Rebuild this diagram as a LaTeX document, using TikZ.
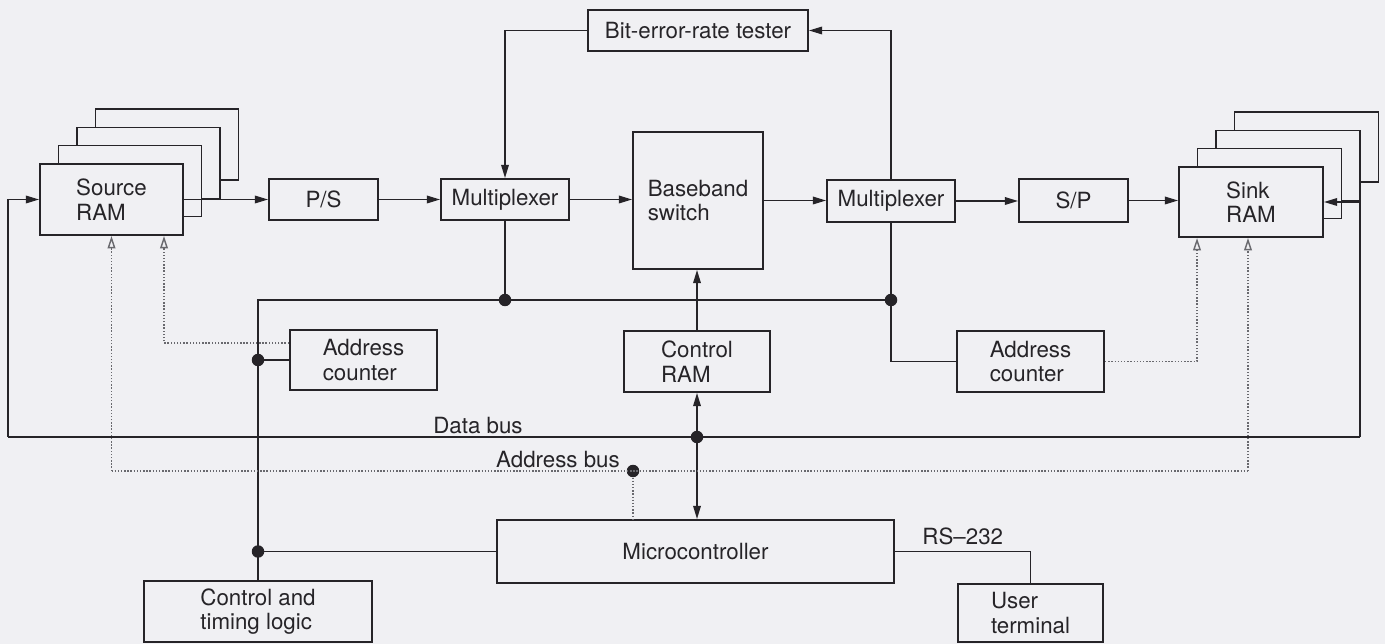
\documentclass[tikz,border=0pt]{standalone}
\usepackage{fontspec}
\setmainfont{TeX Gyre Heros}
\usetikzlibrary{arrows.meta,calc}

\definecolor{paper}{RGB}{240,240,243}
\definecolor{ink}{RGB}{38,36,40}
\definecolor{dots}{RGB}{105,105,110}

\tikzset{
  blk/.style={draw=ink, line width=1.2pt, fill=paper, text=ink, align=left,
    inner sep=0pt, font=\fontsize{12.7}{14}\selectfont},
  stk/.style={draw=ink, line width=0.9pt, fill=paper},
  wire/.style={ink, line width=0.7pt},
  sig/.style={wire, -{Triangle[length=7.5pt,width=4.4pt]}},
  both/.style={wire, {Triangle[length=7.5pt,width=4.4pt]}-{Triangle[length=7.5pt,width=4.4pt]}},
  addr/.style={dots, line width=0.8pt, densely dotted},
  addrin/.style={addr, -{Triangle[length=7pt,width=4.4pt,open]}},
  jdot/.style={circle, fill=ink, inner sep=0pt, minimum size=0.25cm},
  lbl/.style={text=ink, font=\fontsize{12.7}{14}\selectfont}
}

\begin{document}
\begin{tikzpicture}[x=0.02cm, y=-0.02cm]
\path[use as bounding box, fill=paper] (0,0) rectangle (1385,644);

% pages behind the RAMs
\draw[stk] (95.5,109.1) rectangle ++(143,71);
\draw[stk] (77,127.4) rectangle ++(143,71);
\draw[stk] (58.5,145.7) rectangle ++(143,71);
\draw[stk] (1234.5,112.1) rectangle ++(144,70);
\draw[stk] (1216,130.4) rectangle ++(144,70);
\draw[stk] (1197.5,148.7) rectangle ++(144,70);

% blocks
\node[blk, minimum width=2.86cm, minimum height=1.42cm] (srcram) at (111.5,199.5) {Source\\RAM};
\node[blk, minimum width=2.18cm, minimum height=0.82cm] (ps) at (323.5,199.5) {P/S};
\node[blk, minimum width=2.56cm, minimum height=0.82cm] (mux1) at (505,199.5) {Multiplexer};
\node[blk, minimum width=2.60cm, minimum height=2.74cm] (bbsw) at (698,200.5) {Baseband\\switch};
\node[blk, minimum width=2.56cm, minimum height=0.84cm] (mux2) at (891,201) {Multiplexer};
\node[blk, minimum width=2.18cm, minimum height=0.86cm] (sp) at (1073.5,200.5) {S/P};
\node[blk, minimum width=2.88cm, minimum height=1.40cm] (sinkram) at (1251,202) {Sink\\RAM};
\node[blk, minimum width=4.40cm, minimum height=0.82cm] (ber) at (698,30.5) {Bit-error-rate tester};
\node[blk, minimum width=2.92cm, minimum height=1.22cm] (ctrlram) at (697,361.5) {Control\\RAM};
\node[blk, minimum width=2.94cm, minimum height=1.20cm] (addrL) at (363.5,360) {Address\\counter};
\node[blk, minimum width=2.94cm, minimum height=1.22cm] (addrR) at (1030.5,361.5) {Address\\counter};
\node[blk, minimum width=7.94cm, minimum height=1.26cm] (micro) at (695.5,551.5) {Microcontroller};
\node[blk, minimum width=4.56cm, minimum height=1.22cm] (ctl) at (258,611.5) {Control and\\timing logic};
\node[blk, minimum width=2.90cm, minimum height=1.16cm] (user) at (1030.5,613) {User\\terminal};

% bus ends and junctions
\coordinate (dbL) at (8,437);
\coordinate (dbR) at (1360,437);
\coordinate (abL) at (111.5,471);
\coordinate (abR) at (1248,471);
\coordinate (cbL) at (258,300);
\node[jdot] (jm1) at (505,300) {};
\node[jdot] (jm2) at (891,300) {};
\node[jdot] (jac) at (ctl.north |- addrL.west) {};
\node[jdot] (jmc) at (ctl.north |- micro.west) {};
\node[jdot] (jdb) at (ctrlram.south |- dbL) {};
\node[jdot] (jab) at (633,471) {};

% signal path
\draw[sig] (srcram.east) -- (srcram.east -| ps.west);
\draw[sig] (ps.east) -- (ps.east -| mux1.west);
\draw[sig] (mux1.east) -- (mux1.east -| bbsw.west);
\draw[sig] (bbsw.east) -- (bbsw.east -| mux2.west);
\draw[sig] (mux2.east) -- (mux2.east -| sp.west);
\draw[sig] (sp.east) -- (sp.east -| sinkram.west);
\draw[sig] (mux2.north) |- (ber.east);
\draw[sig] (ber.west) -| (mux1.north);

% control lines
\draw[wire] (ctl.north) -- (cbL) -- (jm2.center);
\draw[wire] (mux1.south) -- (jm1.center);
\draw[wire] (mux2.south) -- (jm2.center) |- (addrR.west);
\draw[wire] (jac.center) -- (addrL.west);
\draw[wire] (jmc.center) -- (micro.west);
\draw[sig] (ctrlram.north) -- (ctrlram.north |- bbsw.south);
\draw[both] (ctrlram.south) -- (ctrlram.south |- micro.north);

% data bus
\draw[wire] (dbL) -- (dbR);
\draw[sig] (dbL) |- (srcram.west);
\draw[sig] (dbR) |- (sinkram.east);
\node[lbl] (dblbl) at (478,425.5) {Data bus};

% address bus
\draw[addr] (abL) -- (abR);
\draw[addrin] (abL) -- (srcram.south);
\draw[addrin] (abR) -- (abR |- sinkram.south);
\draw[addr] (jab) -- (jab |- micro.north);
\draw[addrin] ([yshift=0.34cm]addrL.west) -| ([xshift=1.05cm]srcram.south);
\draw[addrin] (addrR.east) -| ([xshift=-1.08cm]sinkram.south);
\node[lbl] (ablbl) at (558,459.5) {Address bus};

% terminal link
\draw[wire] (micro.east) -| (user.north) node[lbl, pos=0.25, above] {RS--232};
\end{tikzpicture}
\end{document}
